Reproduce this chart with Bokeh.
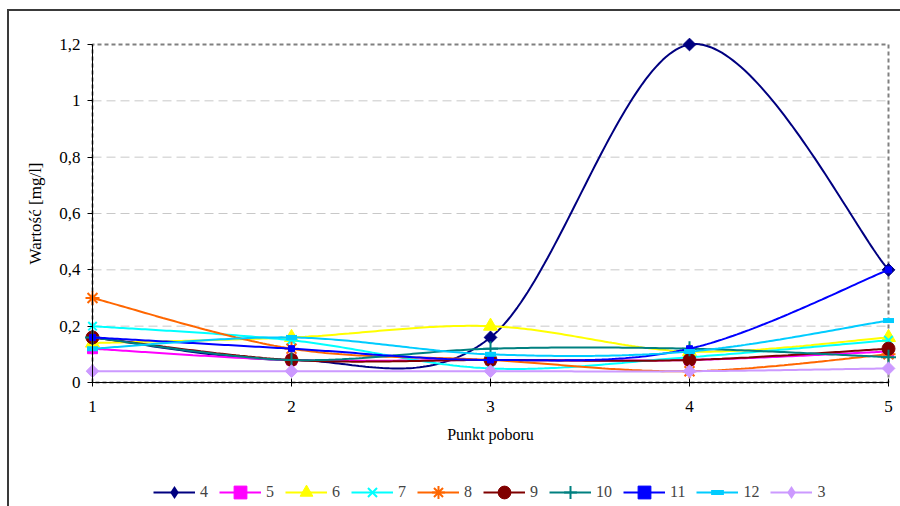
import numpy as np
from bokeh.plotting import figure
from bokeh.models import Range1d, FixedTicker, Legend, LegendItem
from bokeh.embed import file_html
from bokeh.resources import INLINE

# Sampling points along the x axis
points = [1, 2, 3, 4, 5]

# Y axis ticks (Polish decimal comma)
y_ticks = [0.0, 0.2, 0.4, 0.6, 0.8, 1.0, 1.2]
y_tick_labels = ["0", "0,2", "0,4", "0,6", "0,8", "1", "1,2"]

# Measured values [mg/l] per series
s4 = [0.16, 0.08, 0.16, 1.20, 0.40]
s5 = [0.12, 0.08, 0.08, 0.08, 0.11]
s6 = [0.14, 0.16, 0.20, 0.11, 0.16]
s7 = [0.20, 0.15, 0.05, 0.09, 0.15]
s8 = [0.30, 0.12, 0.08, 0.04, 0.10]
s9 = [0.16, 0.08, 0.08, 0.08, 0.12]
s10 = [0.16, 0.08, 0.12, 0.12, 0.09]
s11 = [0.16, 0.12, 0.08, 0.12, 0.40]
s12 = [0.12, 0.16, 0.10, 0.11, 0.22]
s3 = [0.04, 0.04, 0.04, 0.04, 0.05]

series_names = ["4", "5", "6", "7", "8", "9", "10", "11", "12", "3"]
series_values = [s4, s5, s6, s7, s8, s9, s10, s11, s12, s3]

# (colour, marker, marker size, marker line width, marker angle)
styles = [
    ("#000080", "square", 9, 1, np.pi / 4),
    ("#FF00FF", "square", 10, 1, 0.0),
    ("#FFFF00", "triangle", 14, 1, 0.0),
    ("#00FFFF", "x", 12, 2, 0.0),
    ("#FF6600", "asterisk", 14, 2, 0.0),
    ("#800000", "circle", 13, 1, 0.0),
    ("#008080", "cross", 15, 2, 0.0),
    ("#0000FF", "square", 6, 1, 0.0),
    ("#00CCFF", "dash", 11, 5, 0.0),
    ("#CC99FF", "square", 9, 1, np.pi / 4),
]

FONT = "Liberation Serif"

W, H = 900, 506
# data box on the canvas (px): x 1..5 -> 92..888, y 0..1.2 -> 382..44
BOX_L, BOX_R, BOX_T, BOX_B = 92, 888, 44, 382
UX = (points[-1] - points[0]) / (BOX_R - BOX_L)
UY = (y_ticks[-1] - y_ticks[0]) / (BOX_B - BOX_T)


def smooth(xs, ys, n=60):
    """Bezier smoothing through every point (Catmull-Rom style control points)."""
    x = np.asarray(xs, dtype=float)
    y = np.asarray(ys, dtype=float)
    px = np.concatenate([[x[0]], x, [x[-1]]])
    py = np.concatenate([[y[0]], y, [y[-1]]])
    t = np.linspace(0.0, 1.0, n)
    out_x, out_y = [], []
    for i in range(len(x) - 1):
        p0 = np.array([px[i], py[i]])
        p1 = np.array([px[i + 1], py[i + 1]])
        p2 = np.array([px[i + 2], py[i + 2]])
        p3 = np.array([px[i + 3], py[i + 3]])
        c1 = p1 + (p2 - p0) / 6.0
        c2 = p2 - (p3 - p1) / 6.0
        a = (1 - t) ** 3
        b = 3 * (1 - t) ** 2 * t
        c = 3 * (1 - t) * t ** 2
        d = t ** 3
        bx = a * p1[0] + b * c1[0] + c * c2[0] + d * p2[0]
        by = a * p1[1] + b * c1[1] + c * c2[1] + d * p2[1]
        if i > 0:
            bx, by = bx[1:], by[1:]
        out_x.extend(bx.tolist())
        out_y.extend(by.tolist())
    return out_x, out_y


# the plotting frame spans the whole canvas; axes sit on the data box edges
p = figure(
    width=W, height=H,
    x_range=Range1d(points[0] - BOX_L * UX, points[-1] + (W - BOX_R) * UX),
    y_range=Range1d(y_ticks[0] - (H - BOX_B) * UY, y_ticks[-1] + BOX_T * UY),
    min_border=0,
    output_backend="svg", toolbar_location=None,
    # thin frame line around the whole chart (left and top edges)
    styles={"box-shadow": "inset 7px 9px 0 0 #ffffff, inset 9px 11px 0 0 #3a3a3a"},
)
p.title.visible = False
p.outline_line_color = None
p.xgrid.visible = False
p.ygrid.visible = False
p.background_fill_alpha = 0
p.border_fill_alpha = 0

# horizontal dashed gridlines
for v in y_ticks[1:-1]:
    p.segment(x0=points[0], x1=points[-1], y0=v, y1=v,
              line_color="#c8c8c8", line_width=1, line_dash="9 5")

# dotted border of the plot area
box_x = [points[0], points[0], points[-1], points[-1], points[0]]
box_y = [y_ticks[0], y_ticks[-1], y_ticks[-1], y_ticks[0], y_ticks[0]]
p.line(box_x, box_y, line_color="#808080", line_width=2, line_dash="4 3")

legend_items = []
for name, vals, (color, marker, size, lw, ang) in zip(series_names, series_values, styles):
    sx, sy = smooth(points, vals)
    r_line = p.line(sx, sy, line_color=color, line_width=2)
    r_key = None
    if ang:
        # the legend ignores marker rotation, so its swatch is a plain diamond,
        # drawn here underneath the (larger) rotated square
        r_key = p.scatter(points, vals, marker="diamond", size=12,
                          fill_color=color, line_color=color, line_width=0)
    r_mark = p.scatter(points, vals, marker=marker, size=size, angle=ang,
                       fill_color=color, line_color=color, line_width=lw)
    legend_items.append(LegendItem(label=name, renderers=[r_line, r_key or r_mark]))

# axes
xax = p.xaxis[0]
yax = p.yaxis[0]
xax.fixed_location = y_ticks[0]
yax.fixed_location = points[0]
xax.bounds = (points[0], points[-1])
yax.bounds = (y_ticks[0], y_ticks[-1])
xax.ticker = FixedTicker(ticks=points)
yax.ticker = FixedTicker(ticks=y_ticks)
yax.major_label_overrides = {v: s for v, s in zip(y_ticks, y_tick_labels)}
xax.major_label_overrides = {v: str(v) for v in points}

for ax in (xax, yax):
    ax.axis_line_color = "black"
    ax.axis_line_width = 1
    ax.major_tick_line_color = "black"
    ax.minor_tick_line_color = None
    ax.major_label_text_font = FONT
    ax.major_label_text_font_size = "17px"
    ax.major_label_text_color = "black"
    ax.axis_label_text_font = FONT
    ax.axis_label_text_font_style = "normal"
    ax.axis_label_text_color = "black"

xax.axis_label = "Punkt poboru"
xax.axis_label_text_font_size = "16px"
xax.major_tick_in = 4
xax.major_tick_out = 4
xax.major_label_standoff = 14
xax.axis_label_standoff = 11

yax.axis_label = "Wartość [mg/l]"
yax.axis_label_text_font_size = "17px"
yax.major_tick_in = 0
yax.major_tick_out = 5
yax.major_label_standoff = 7
yax.axis_label_standoff = 11

legend = Legend(
    items=legend_items,
    orientation="horizontal",
    location=(153, -2),
    glyph_width=42, glyph_height=32,
    label_standoff=5, label_width=8, spacing=11, padding=5, margin=0,
    label_text_font=FONT, label_text_font_size="16px",
    border_line_color=None, background_fill_alpha=0,
)
p.add_layout(legend, "center")

open("out.html", "w").write(file_html(p, INLINE))
